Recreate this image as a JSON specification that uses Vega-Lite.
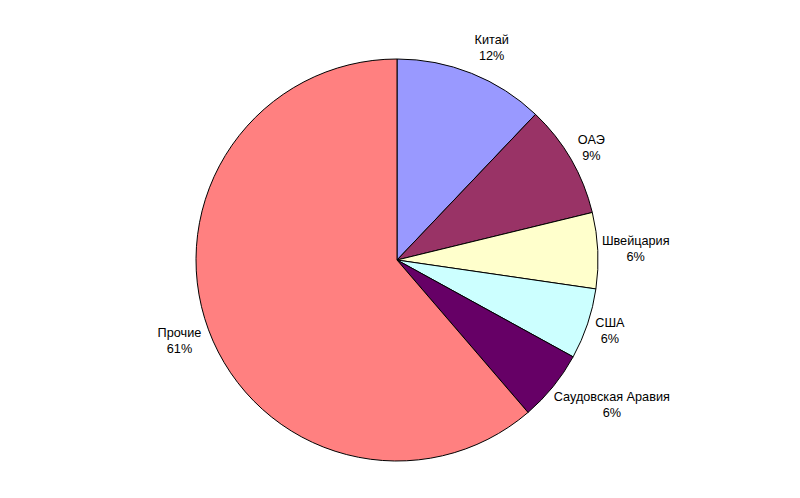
{
  "$schema": "https://vega.github.io/schema/vega-lite/v6.json",
  "width": 794,
  "height": 520,
  "padding": 0,
  "autosize": {"type": "none"},
  "background": "white",
  "config": {"view": {"stroke": null}, "text": {"font": "Liberation Sans", "fontSize": 12.7, "lineBreak": "\n", "lineHeight": 16, "fill": "black", "dy": -8}},
  "data": {
    "values": [
      {"idx": 1, "name": "Китай", "value": 12.1, "label": "Китай\n12%"},
      {"idx": 2, "name": "ОАЭ", "value": 9.1, "label": "ОАЭ\n9%"},
      {"idx": 3, "name": "Швейцария", "value": 6.1, "label": "Швейцария\n6%"},
      {"idx": 4, "name": "США", "value": 5.7, "label": "США\n6%"},
      {"idx": 5, "name": "Саудовская Аравия", "value": 5.7, "label": "Саудовская Аравия\n6%"},
      {"idx": 6, "name": "Прочие", "value": 61.3, "label": "Прочие\n61%"}
    ]
  },
  "encoding": {
    "theta": {"field": "value", "type": "quantitative", "stack": true},
    "order": {"field": "idx", "type": "quantitative"}
  },
  "layer": [
    {
      "mark": {"type": "arc", "outerRadius": 201, "stroke": "black", "strokeWidth": 1},
      "encoding": {
        "color": {
          "field": "name",
          "type": "nominal",
          "scale": {
            "domain": ["Китай", "ОАЭ", "Швейцария", "США", "Саудовская Аравия", "Прочие"],
            "range": ["#9999FF", "#993366", "#FFFFCC", "#CCFFFF", "#660066", "#FF8080"]
          },
          "legend": null
        }
      }
    },
    {
      "mark": {"type": "text", "radius": 232, "thetaOffset": 0.04},
      "encoding": {"text": {"condition": {"test": "datum.name === 'Китай'", "field": "label"}, "value": ""}}
    },
    {
      "mark": {"type": "text", "radius": 224.5},
      "encoding": {"text": {"condition": {"test": "datum.name === 'ОАЭ' || datum.name === 'США'", "field": "label"}, "value": ""}}
    },
    {
      "mark": {"type": "text", "radius": 239},
      "encoding": {"text": {"condition": {"test": "datum.name === 'Швейцария'", "field": "label"}, "value": ""}}
    },
    {
      "mark": {"type": "text", "radius": 259, "thetaOffset": -0.089},
      "encoding": {"text": {"condition": {"test": "datum.name === 'Саудовская Аравия'", "field": "label"}, "value": ""}}
    },
    {
      "mark": {"type": "text", "radius": 232},
      "encoding": {"text": {"condition": {"test": "datum.name === 'Прочие'", "field": "label"}, "value": ""}}
    }
  ]
}
